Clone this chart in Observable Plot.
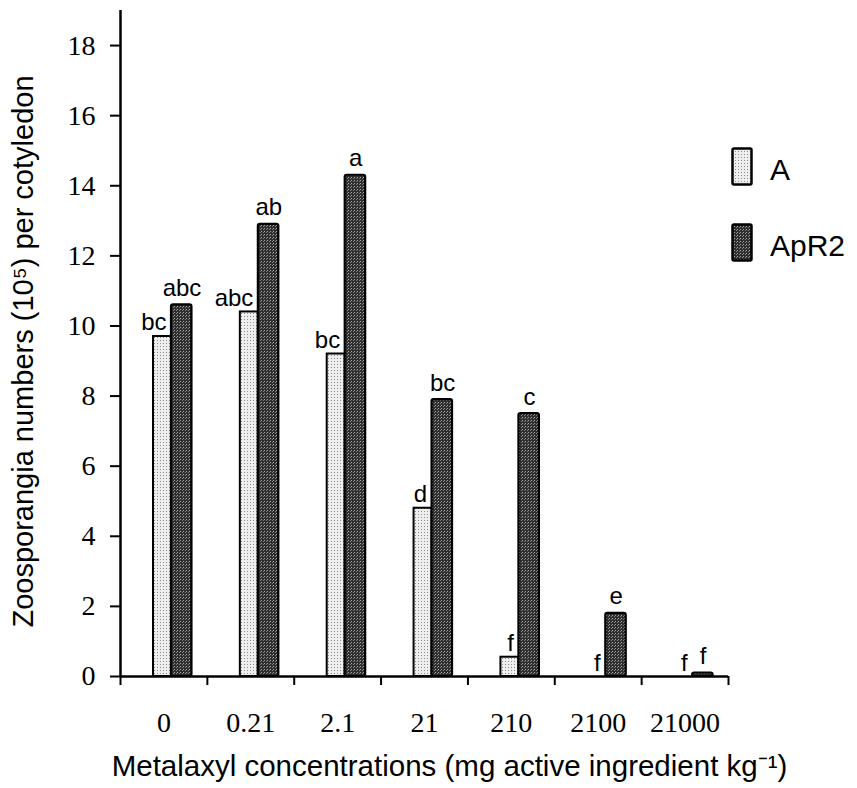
<!DOCTYPE html>
<html><head><meta charset="utf-8">
<script src="https://cdn.jsdelivr.net/npm/d3@7"></script>
<script src="https://cdn.jsdelivr.net/npm/@observablehq/plot@0.6"></script>
<style>
body{margin:0;background:#fff;}
#wrap{position:relative;width:857px;height:788px;}
.legtext{position:absolute;font-family:"Liberation Sans",Arial,sans-serif;font-size:30px;color:#000;line-height:1;}
.legsw{position:absolute;}
</style></head><body>
<svg width="0" height="0" style="position:absolute;left:0;top:0">
<defs>
<pattern id="patA" patternUnits="userSpaceOnUse" width="3" height="3">
<rect width="3" height="3" fill="#eeeeee"/><rect x="1" y="1" width="1" height="1" fill="#8c8c8c"/>
</pattern>
<pattern id="patB" patternUnits="userSpaceOnUse" width="3" height="3">
<rect width="3" height="3" fill="#2e2e2e"/><rect x="0" y="0" width="1" height="1" fill="#a8a8a8"/><rect x="2" y="1" width="1" height="1" fill="#808080"/>
</pattern>
</defs></svg>
<div id="wrap"></div>
<script>
const categories = ["0", "0.21", "2.1", "21", "210", "2100", "21000"];
const valuesA = [9.7, 10.4, 9.2, 4.8, 0.55, 0, 0];
const valuesApR2 = [10.6, 12.9, 14.3, 7.9, 7.5, 1.8, 0.1];
const lettersA = ["bc", "abc", "bc", "d", "f", "f", "f"];
const lettersApR2 = ["abc", "ab", "a", "bc", "c", "e", "f"];
const seriesNames = ["A", "ApR2"];
const yTicks = [0, 2, 4, 6, 8, 10, 12, 14, 16, 18];
const xBoundaries = [0, 1, 2, 3, 4, 5, 6, 7];
const yTitle = "Zoosporangia numbers (10\u2075) per cotyledon";
const xTitle = "Metalaxyl concentrations (mg active ingredient kg\u207B\u00B9)";

const rowsA = categories.map((c, i) => ({cat: c, i, value: valuesA[i], letter: lettersA[i]}));
const rowsB = categories.map((c, i) => ({cat: c, i, value: valuesApR2[i], letter: lettersApR2[i]}));
const labelPos = categories.map((c, i) => i + 0.5);

const sans = '"Liberation Sans", Arial, sans-serif';
const serif = '"Liberation Serif", "Times New Roman", serif';

const plot = Plot.plot({
  width: 857, height: 788,
  marginLeft: 120, marginRight: 129, marginTop: 10, marginBottom: 112,
  x: {domain: [0, 7], axis: null},
  y: {domain: [0, 19], axis: null},
  style: {fontFamily: sans, background: "#fff", color: "#000", overflow: "visible"},
  marks: [
    Plot.rectY(rowsA, {x1: "i", x2: d => d.i + 1, y: "value", insetLeft: 33, insetRight: 35.9, fill: "url(#patA)", stroke: "#000", strokeWidth: 2}),
    Plot.rectY(rowsB, {x1: "i", x2: d => d.i + 1, y: "value", insetLeft: 51, insetRight: 15.4, fill: "url(#patB)", stroke: "#000", strokeWidth: 2.2, rx: 2}),
    Plot.ruleX([0], {strokeWidth: 2.5}),
    Plot.ruleY([0], {strokeWidth: 2.5}),
    Plot.axisY({ticks: yTicks, tickSize: 10, tickPadding: 15, strokeWidth: 2, fontFamily: serif, fontSize: 28, label: null, tickFormat: d => String(d)}),
    Plot.axisX({ticks: xBoundaries, tickSize: 9, strokeWidth: 2, tickFormat: () => "", label: null}),
    Plot.axisX({ticks: labelPos, tickSize: 0, tickPadding: 36, fontFamily: serif, fontSize: 28, label: null, tickFormat: v => categories[Math.floor(v)]}),
    Plot.text(rowsA, {x: "i", y: "value", text: "letter", dx: 46, dy: -6, textAnchor: "end", lineAnchor: "bottom", fontSize: 24}),
    Plot.text(rowsB, {x: "i", y: "value", text: "letter", dx: 61.5, dy: -9, lineAnchor: "bottom", fontSize: 24}),
    Plot.text([yTitle], {frameAnchor: "left", rotate: -90, dx: -88, dy: 8, textAnchor: "middle", lineAnchor: "bottom", fontSize: 29}),
    Plot.text([xTitle], {frameAnchor: "bottom", dx: 25, dy: 99, textAnchor: "middle", lineAnchor: "bottom", fontSize: 29.5})
  ]
});
const wrap = document.getElementById("wrap");
wrap.appendChild(plot);

// legend
const legendFills = ["url(#patA)", "url(#patB)"];
const legendTops = [147, 223];
seriesNames.forEach((name, k) => {
  const sw = document.createElementNS("http://www.w3.org/2000/svg", "svg");
  sw.setAttribute("width", 22); sw.setAttribute("height", 40);
  sw.setAttribute("class", "legsw");
  sw.style.left = "731px"; sw.style.top = legendTops[k] + "px";
  const r = document.createElementNS("http://www.w3.org/2000/svg", "rect");
  r.setAttribute("x", 1.5); r.setAttribute("y", 1.5); r.setAttribute("width", 19); r.setAttribute("height", 36);
  r.setAttribute("fill", legendFills[k]); r.setAttribute("stroke", "#000"); r.setAttribute("stroke-width", 2.5); r.setAttribute("rx", 1.5);
  sw.appendChild(r);
  wrap.appendChild(sw);
  const t = document.createElement("div");
  t.className = "legtext";
  t.textContent = name;
  t.style.left = "770px"; t.style.top = (legendTops[k] + 8) + "px";
  wrap.appendChild(t);
});
</script>
</body></html>
